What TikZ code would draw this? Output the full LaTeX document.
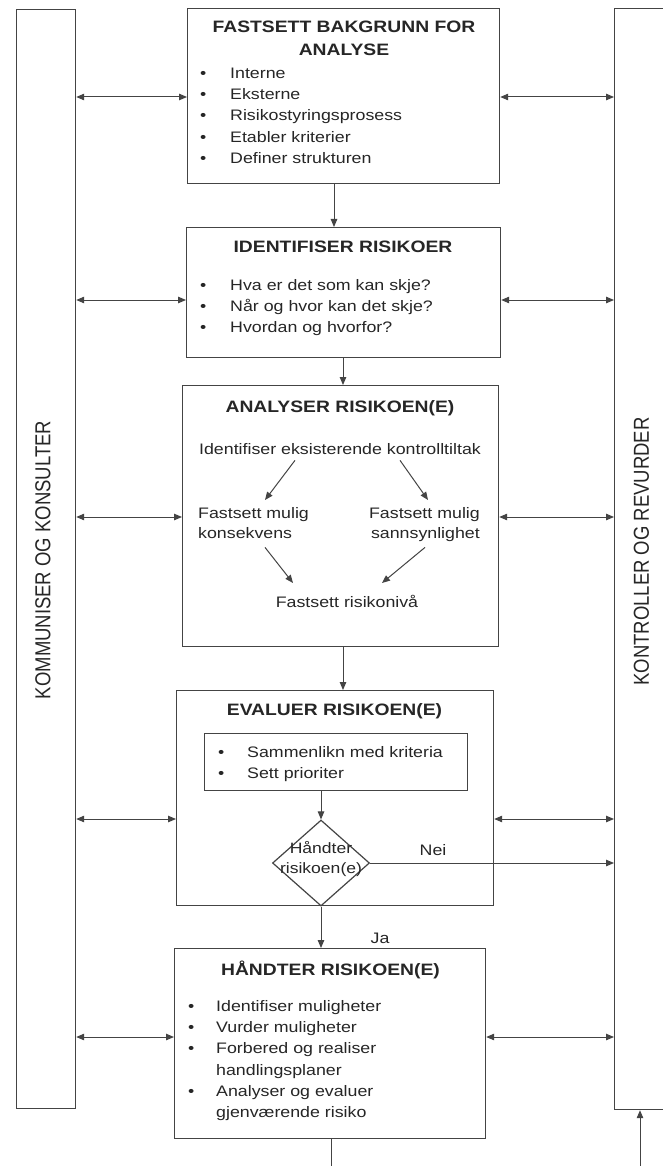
\documentclass[tikz,border=0pt]{standalone}
\usepackage{fontspec}
\setmainfont[FakeStretch=1.17]{Liberation Sans}
\newfontfamily\barfont{Liberation Sans}
\usepackage{graphicx}
\usetikzlibrary{arrows.meta,shapes.geometric}
\definecolor{ln}{HTML}{444444}
\definecolor{tx}{HTML}{262626}
\tikzset{
  boxnode/.style={draw=ln, line width=1.2pt, rectangle, inner sep=0pt, anchor=north west},
  arr/.style={draw=ln, line width=1pt, -{Triangle[length=8pt,width=6.5pt]}},
  darr/.style={draw=ln, line width=1pt, {Triangle[length=8pt,width=6.5pt]}-{Triangle[length=8pt,width=6.5pt]}},
  plain/.style={draw=ln, line width=1pt},
  titlef/.style={font=\fontsize{16.5}{23}\selectfont\bfseries, text=tx, inner sep=0pt, anchor=base},
  bodyf/.style={font=\fontsize{15.2}{21.3}\selectfont, text=tx, inner sep=0pt},
  listf/.style={font=\fontsize{15.2}{21.3}\selectfont, text=tx, inner sep=0pt, anchor=north west},
  barf/.style={font=\barfont\fontsize{18.5}{20}\selectfont, text=tx, inner sep=0pt, rotate=90},
}
\begin{document}
\begin{tikzpicture}[x=1pt,y=-1pt]
\useasboundingbox (0,0) rectangle (663,1166);
\clip (0,0) rectangle (663,1166);
\fill[white] (0,0) rectangle (663,1166);

% side bars
\node[boxnode, minimum width=59pt, minimum height=1099pt] (L) at (16,9) {};
\node[boxnode, minimum width=100pt, minimum height=1101pt] (R) at (614,8) {};
\node[barf] (lt) at (43,560) {\scalebox{1}[1.17]{KOMMUNISER OG KONSULTER}};
\node[barf] (rt) at (641.5,551.5) {\scalebox{1}[1.17]{KONTROLLER OG REVURDER}};

% boxes
\node[boxnode, minimum width=312pt, minimum height=175pt] (b1) at (187,8) {};
\node[boxnode, minimum width=314pt, minimum height=130pt] (b2) at (186,227) {};
\node[boxnode, minimum width=316pt, minimum height=261pt] (b3) at (182,385) {};
\node[boxnode, minimum width=317pt, minimum height=215pt] (b4) at (176,690) {};
\node[boxnode, minimum width=263pt, minimum height=57pt] (b4i) at (204,733) {};
\node[boxnode, minimum width=311pt, minimum height=190pt] (b5) at (174,948) {};
\node[draw=ln, line width=1.2pt, diamond, inner sep=0pt, minimum width=97pt, minimum height=86pt] (d) at (321,863) {};

% box 1 text
\node[titlef] (t1a) at (344,33) {FASTSETT BAKGRUNN FOR};
\node[titlef] (t1b) at (344,56) {ANALYSE};
\node[listf] (l1) at (200,63) {\begin{tabular}{@{}p{30pt}@{}l@{}}
•& Interne\\ •& Eksterne\\ •& Risikostyringsprosess\\ •& Etabler kriterier\\ •& Definer strukturen
\end{tabular}};

% box 2 text
\node[titlef] (t2a) at (343,252) {IDENTIFISER RISIKOER};
\node[listf] (l2) at (200,275) {\begin{tabular}{@{}p{30pt}@{}l@{}}
•& Hva er det som kan skje?\\ •& Når og hvor kan det skje?\\ •& Hvordan og hvorfor?
\end{tabular}};

% box 3 text
\node[titlef] (t3a) at (340,412) {ANALYSER RISIKOEN(E)};
\node[bodyf, anchor=base] (a1) at (340,454) {Identifiser eksisterende kontrolltiltak};
\node[bodyf, anchor=north west, font=\fontsize{15.2}{20}\selectfont] (a2) at (198,504)
  {\begin{tabular}{@{}l@{}}Fastsett mulig\\ konsekvens\end{tabular}};
\node[bodyf, anchor=north east, font=\fontsize{15.2}{20}\selectfont] (a3) at (480,504)
  {\begin{tabular}{@{}r@{}}Fastsett mulig\\ sannsynlighet\end{tabular}};
\node[bodyf, anchor=base] (a4) at (347,607) {Fastsett risikonivå};
\draw[arr] ([xshift=-45pt,yshift=-6pt]a1.south) -- ([xshift=67pt,yshift=4pt]a2.north west);
\draw[arr] ([xshift=60pt,yshift=-6pt]a1.south) -- ([xshift=-52pt,yshift=4pt]a3.north east);
\draw[arr] ([xshift=67pt,yshift=-3pt]a2.south west) -- ([xshift=-54pt,yshift=24pt]a4.base);
\draw[arr] ([xshift=-55pt,yshift=-3pt]a3.south east) -- ([xshift=35pt,yshift=24pt]a4.base);

% box 4 text
\node[titlef] (t4a) at (334.5,715) {EVALUER RISIKOEN(E)};
\node[listf] (l4) at (218,742) {\begin{tabular}{@{}p{29pt}@{}l@{}}
•& Sammenlikn med kriteria\\ •& Sett prioriter
\end{tabular}};
\node[bodyf, anchor=base, font=\fontsize{15}{20}\selectfont] (dt1) at (321,853) {Håndter};
\node[bodyf, anchor=base, font=\fontsize{15}{20}\selectfont] (dt2) at (321,873) {risikoen(e)};
\node[bodyf, anchor=base] (nei) at (433,855) {Nei};
\node[bodyf, anchor=base] (ja) at (380,943) {Ja};

% box 5 text
\node[titlef] (t5a) at (330.5,975) {HÅNDTER RISIKOEN(E)};
\node[listf] (l5) at (188,996) {\begin{tabular}{@{}p{28pt}@{}l@{}}
•& Identifiser muligheter\\ •& Vurder muligheter\\ •& Forbered og realiser\\ & handlingsplaner\\ •& Analyser og evaluer\\ & gjenværende risiko
\end{tabular}};

% vertical flow
\coordinate (v1) at (334,0);
\coordinate (v2) at (343,0);
\coordinate (v3) at (321,0);
\draw[arr] (b1.south -| v1) -- (b2.north -| v1);
\draw[arr] (b2.south -| v2) -- (b3.north -| v2);
\draw[arr] (b3.south -| v2) -- (b4.north -| v2);
\draw[arr] (b4i.south -| v3) -- (d.north);
\draw[arr] (d.south) -- (b5.north -| d.south);
\draw[arr] (d.east) -- (R.west |- d.east);

% side arrows
\coordinate (y1) at (0,97);
\coordinate (y2) at (0,300);
\coordinate (y3) at (0,517);
\coordinate (y4) at (0,819);
\coordinate (y5) at (0,1037);
\draw[darr] (L.east |- y1) -- (b1.west |- y1);
\draw[darr] (b1.east |- y1) -- (R.west |- y1);
\draw[darr] (L.east |- y2) -- (b2.west |- y2);
\draw[darr] (b2.east |- y2) -- (R.west |- y2);
\draw[darr] (L.east |- y3) -- (b3.west |- y3);
\draw[darr] (b3.east |- y3) -- (R.west |- y3);
\draw[darr] (L.east |- y4) -- (b4.west |- y4);
\draw[darr] (b4.east |- y4) -- (R.west |- y4);
\draw[darr] (L.east |- y5) -- (b5.west |- y5);
\draw[darr] (b5.east |- y5) -- (R.west |- y5);

% bottom
\coordinate (bot1) at (331,1166);
\coordinate (bot2) at (640,1166);
\draw[plain] (b5.south -| bot1) -- (bot1);
\draw[arr] (bot2) -- (R.south -| bot2);
\end{tikzpicture}
\end{document}
